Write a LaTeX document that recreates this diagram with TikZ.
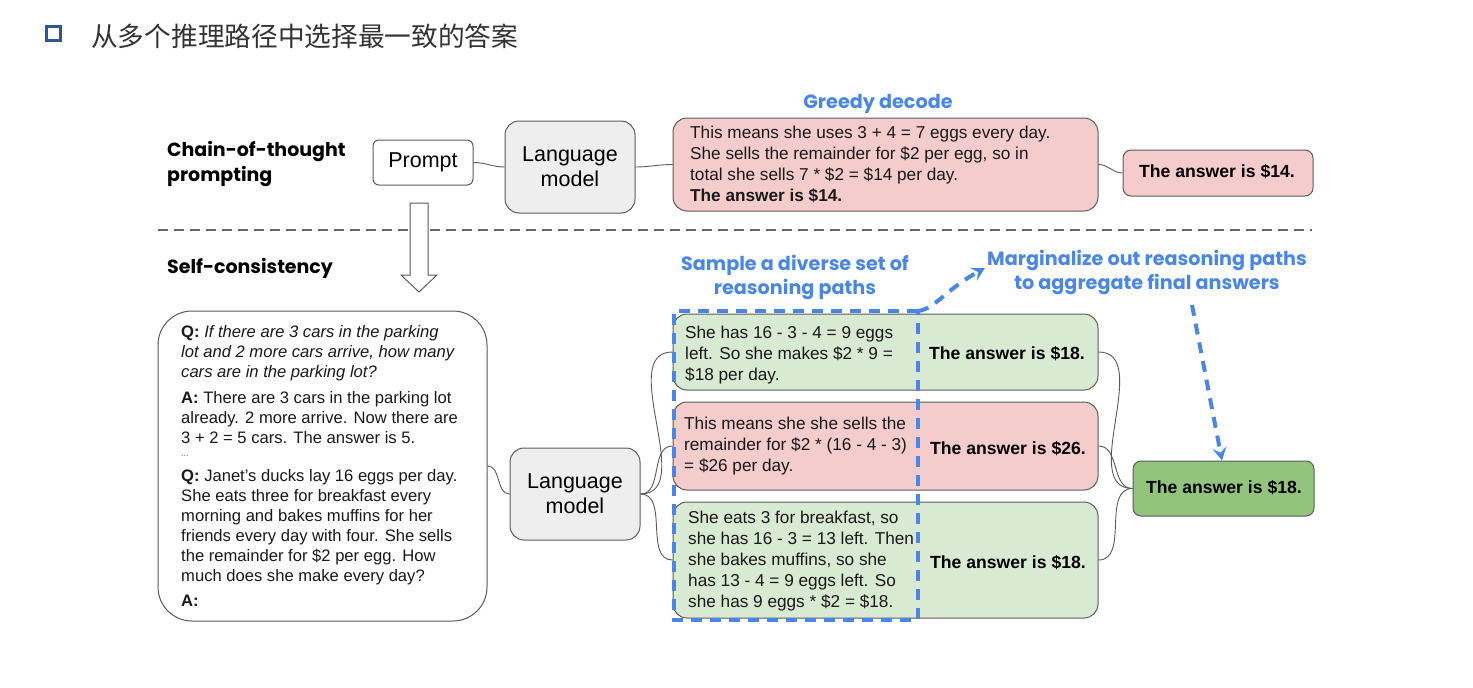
\documentclass[tikz,border=0pt]{standalone}
\usepackage{fontspec}
\setmainfont{Liberation Sans}
\newfontfamily\headfont{Poppins}
\newfontfamily\cjk{Noto Sans CJK SC}
\usetikzlibrary{arrows.meta}
\definecolor{bluelab}{RGB}{74,134,232}
\definecolor{pinkfill}{RGB}{244,204,204}
\definecolor{greenfill}{RGB}{217,234,211}
\definecolor{darkgreen}{RGB}{147,196,125}
\definecolor{grayfill}{RGB}{238,238,238}
\definecolor{edge}{RGB}{90,90,90}
\definecolor{titlecol}{RGB}{51,51,51}
\definecolor{sqblue}{RGB}{47,85,151}
\begin{document}
\begin{tikzpicture}[x=1pt,y=-1pt,
  box/.style={draw=edge, line width=1pt, rounded corners=14pt, inner sep=0pt},
  body/.style={inner sep=0pt, anchor=west, align=left, font=\fontsize{17.2}{21}\selectfont, text=black!90},
  qbody/.style={inner sep=0pt, anchor=west, align=left, font=\fontsize{16.6}{20}\selectfont, text=black!90},
  ans/.style={inner sep=0pt, font=\bfseries\fontsize{17.6}{20}\selectfont},
  head/.style={inner sep=0pt, anchor=west, align=left, font=\headfont\bfseries\fontsize{19}{25}\selectfont},
  bluehead/.style={inner sep=0pt, align=center, text=bluelab, font=\headfont\bfseries\fontsize{19.2}{24}\selectfont},
  conn/.style={draw=edge, line width=0.9pt},
  lm/.style={box, fill=grayfill, minimum width=130pt, minimum height=92pt, align=center, font=\fontsize{21.5}{25}\selectfont},
  bdash/.style={draw=bluelab, line width=4pt, dash pattern=on 11pt off 8pt}
]
\useasboundingbox (0,0) rectangle (1473,688);

% title
\node[draw=sqblue, line width=3pt, minimum size=14pt, inner sep=0pt] (sq) at (53.5,33.5) {};
\node[anchor=west, inner sep=0pt, text=titlecol, font=\cjk\fontsize{26.7}{30}\selectfont] (title) at (91,36) {从多个推理路径中选择最一致的答案};

% top section
\node[head] (cot) at (167,164) {Chain-of-thought\\prompting};
\node[box, rounded corners=6pt, fill=white, minimum width=100pt, minimum height=45pt, font=\fontsize{21.5}{24}\selectfont] (prompt) at (423,162.5) {Prompt};
\node[lm] (lm1) at (570,167) {Language\\model};
\node[box, fill=pinkfill, minimum width=425pt, minimum height=93pt] (greedy) at (885.5,164.5) {};
\node[body] (greedytxt) at (690,164.5) {This means she uses 3 + 4 = 7 eggs every day.\\She sells the remainder for \$2 per egg, so in\\total she sells 7 * \$2 = \$14 per day.\\\textbf{The answer is \$14.}};
\node[bluehead] (greedylab) at (878,104) {Greedy decode};
\node[box, rounded corners=8pt, fill=pinkfill, minimum width=190pt, minimum height=46pt] (ans0) at (1218,173) {};
\node[ans] (ans0txt) at (1217,172) {The answer is \$14.};

\draw[conn] (prompt.east) to[out=0,in=180] (lm1.west);
\draw[conn] (lm1.east) to[out=0,in=180] (greedy.west);
\draw[conn] (greedy.east) to[out=0,in=180] (ans0.west);

% separator
\coordinate (sepL) at (158,230);
\coordinate (sepR) at (1312,230);
\draw[draw=black!60, line width=2.2pt, dash pattern=on 10pt off 6pt] (sepL) -- (sepR);

% hollow arrow
\draw[draw=edge, fill=white, line width=1pt] (410,203) -- (428,203) -- (428,275) -- (437,275) -- (419,292) -- (401,275) -- (410,275) -- cycle;

\node[head] (sc) at (167,268) {Self-consistency};

% question box
\node[box, rounded corners=34pt, fill=white, minimum width=329pt, minimum height=310pt] (qbox) at (322.5,466) {};
\node[qbody] (q1) at (181,353) {\textbf{Q:} \textit{If there are 3 cars in the parking}\\\textit{lot and 2 more cars arrive, how many}\\\textit{cars are in the parking lot?}};
\node[qbody] (a1) at (181,418) {\textbf{A:} There are 3 cars in the parking lot\\already. 2 more arrive. Now there are\\3 + 2 = 5 cars. The answer is 5.};
\node[qbody, font=\fontsize{9}{10}\selectfont, text=black!60] (dots) at (181,456) {...};
\node[qbody] (q2) at (181,527) {\textbf{Q:} Janet’s ducks lay 16 eggs per day.\\She eats three for breakfast every\\morning and bakes muffins for her\\friends every day with four. She sells\\the remainder for \$2 per egg. How\\much does she make every day?};
\node[qbody] (a2) at (181,601) {\textbf{A:}};

\node[lm] (lm2) at (575,494) {Language\\model};
\draw[conn] (qbox.east |- 0,466) coordinate (qe) to[out=0,in=180] (lm2.west);

% path boxes
\node[box, fill=greenfill, minimum width=425pt, minimum height=76pt] (p1) at (885.5,352) {};
\node[box, fill=pinkfill, minimum width=425pt, minimum height=88pt] (p2) at (885.5,446) {};
\node[box, fill=greenfill, minimum width=425pt, minimum height=116pt] (p3) at (885.5,560) {};

\node[body] (p1t) at (685,355) {She has 16 - 3 - 4 = 9 eggs\\left. So she makes \$2 * 9 =\\\$18 per day.};
\node[body] (p2t) at (684,446) {This means she she sells the\\remainder for \$2 * (16 - 4 - 3)\\= \$26 per day.};
\node[body] (p3t) at (688,561) {She eats 3 for breakfast, so\\she has 16 - 3 = 13 left. Then\\she bakes muffins, so she\\has 13 - 4 = 9 eggs left. So\\she has 9 eggs * \$2 = \$18.};

\node[ans] (p1a) at (1007,354) {The answer is \$18.};
\node[ans] (p2a) at (1008,449) {The answer is \$26.};
\node[ans] (p3a) at (1008,563) {The answer is \$18.};

\node[box, rounded corners=8pt, fill=darkgreen, minimum width=181pt, minimum height=55pt] (final) at (1223.5,488.5) {};
\node[ans] (finaltxt) at (1224,488) {The answer is \$18.};

\draw[conn] (lm2.east) to[out=0,in=180] (p1.west);
\draw[conn] (lm2.east) to[out=0,in=180] (p2.west);
\draw[conn] (lm2.east) to[out=0,in=180] (p3.west);
\draw[conn] (p1.east) to[out=0,in=180] (final.west);
\draw[conn] (p2.east) to[out=0,in=180] (final.west);
\draw[conn] (p3.east) to[out=0,in=180] (final.west);

% blue dashed selection
\coordinate (bTL) at (674,311);
\coordinate (bTR) at (918,311);
\coordinate (bBL) at (674,620);
\coordinate (bBR) at (918,620);
\coordinate (bArrow) at (985,268);
\draw[bdash] (bTR) -- (bTL) -- (bBL) -- (bBR) -- (bTR);
\draw[bdash, -{Stealth[length=13pt,width=14pt,inset=5pt]}] (bTR) .. controls (935,309) and (945,290) .. (bArrow);

\node[bluehead] (samplelab) at (795,277) {Sample a diverse set of\\reasoning paths};
\node[bluehead] (marglab) at (1147,272) {Marginalize out reasoning paths\\to aggregate final answers};

\coordinate (mStart) at (1192,305);
\draw[bdash, -{Stealth[length=13pt,width=14pt,inset=5pt]}] (mStart) -- (final.north -| 1222,0);
\end{tikzpicture}
\end{document}
